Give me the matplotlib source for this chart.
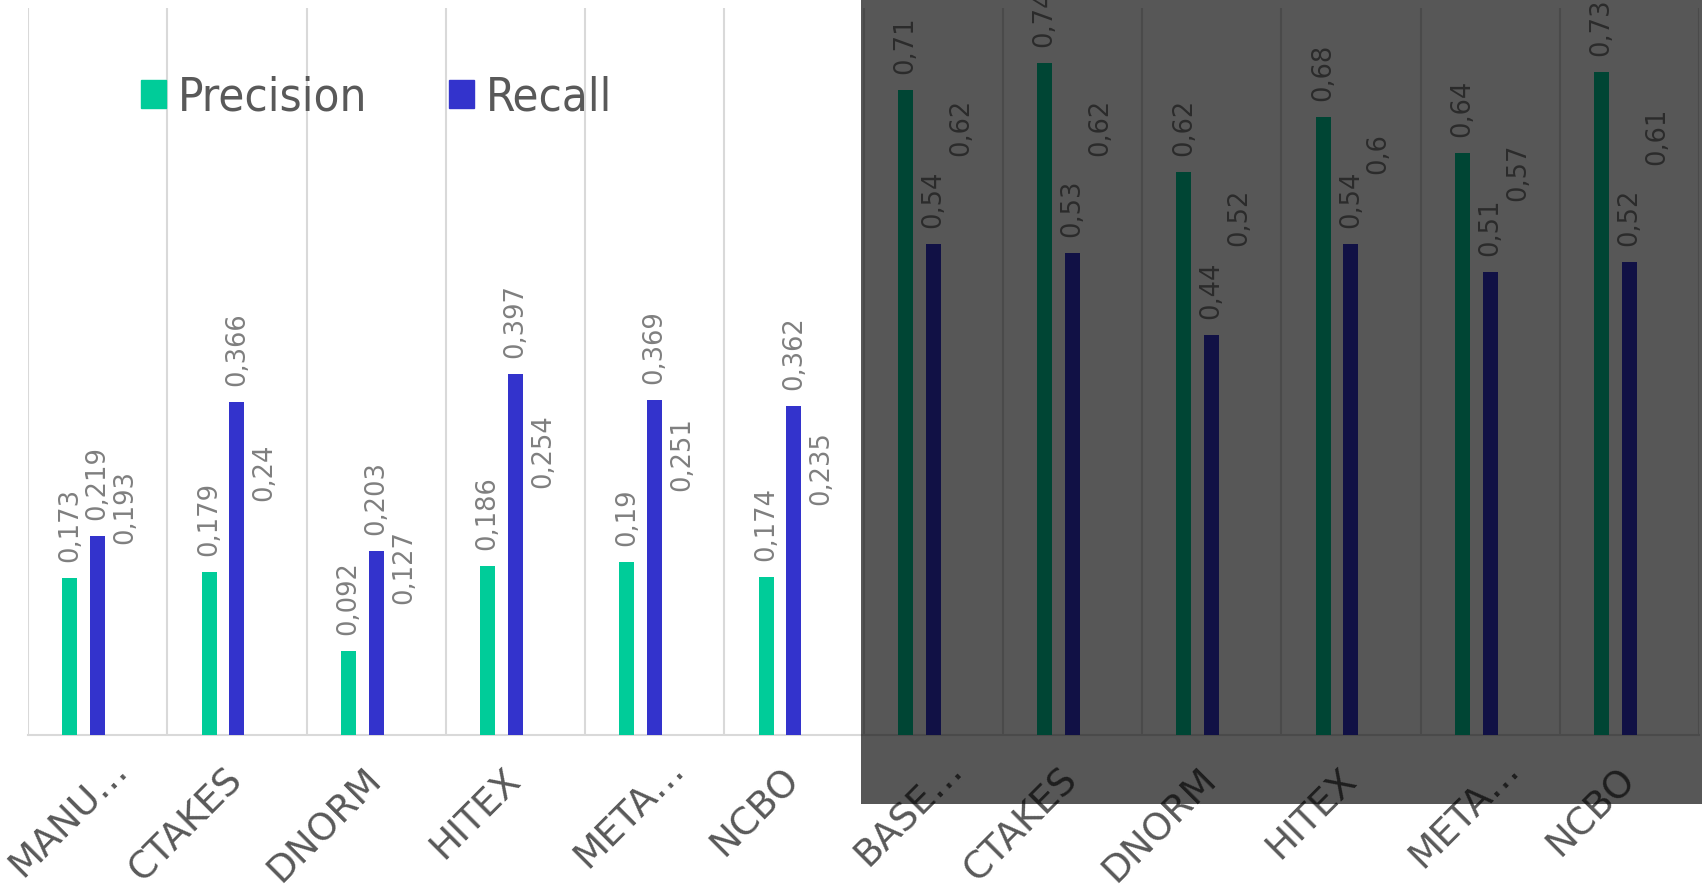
import matplotlib
matplotlib.use("Agg")
import matplotlib.pyplot as plt
import matplotlib.transforms as mtransforms
from matplotlib.patches import Rectangle, Patch
import numpy as np

categories = ["MANU…", "CTAKES", "DNORM", "HITEX", "META…", "NCBO",
              "BASE…", "CTAKES", "DNORM", "HITEX", "META…", "NCBO"]
precision = [0.173, 0.179, 0.092, 0.186, 0.19, 0.174, 0.71, 0.74, 0.62, 0.68, 0.64, 0.73]
recall = [0.219, 0.366, 0.203, 0.397, 0.369, 0.362, 0.54, 0.53, 0.44, 0.54, 0.51, 0.52]
fmeasure = [0.193, 0.24, 0.127, 0.254, 0.251, 0.235, 0.62, 0.62, 0.52, 0.6, 0.57, 0.61]

W, H = 1702, 889
fig = plt.figure(figsize=(W / 100, H / 100), dpi=100)
ax = fig.add_axes([28 / W, 1 - 735 / H, 1671 / W, 727 / H])

x = np.arange(len(categories))
bw = 0.108
off = 0.2
ax.bar(x - off, precision, bw, color="#00CC99", zorder=3)
ax.bar(x, recall, bw, color="#3333CC", zorder=3)

lab_kw = dict(rotation=90, ha="center", va="bottom", color="#7f7f7f",
              fontsize=18.5, textcoords="offset points", xytext=(0, 11.5))
def fmt(v):
    return ("%g" % v).replace(".", ",")
for i in range(len(categories)):
    ax.annotate(fmt(precision[i]), (x[i] - off, precision[i]), **lab_kw)
    ax.annotate(fmt(recall[i]), (x[i], recall[i]), **lab_kw)
    ax.annotate(fmt(fmeasure[i]), (x[i] + off, fmeasure[i]), **lab_kw)

ax.set_xlim(-0.5, len(categories) - 0.5)
ax.set_ylim(0, 0.8)
ax.set_yticks([])
ax.set_xticks(x)
ax.set_xticklabels(categories, rotation=45, ha="right", va="center",
                   rotation_mode="anchor", fontsize=27, color="#595959")
ax.tick_params(axis="x", length=0, pad=28)
# truncated labels sit a little further along in the original
shift = mtransforms.ScaledTranslation(0.24, 0.10, fig.dpi_scale_trans)
for lbl in ax.get_xticklabels():
    if lbl.get_text().endswith("…"):
        lbl.set_transform(lbl.get_transform() + shift)
ax.set_xticks(np.arange(-0.5, len(categories), 1), minor=True)
ax.tick_params(axis="x", which="minor", length=0)
ax.grid(axis="x", which="minor", color="#d9d9d9", linewidth=1.5, zorder=0)
ax.grid(axis="x", which="major", visible=False)
for s in ["top", "right", "left"]:
    ax.spines[s].set_visible(False)
ax.spines["bottom"].set_color("#d9d9d9")
ax.spines["bottom"].set_linewidth(1.5)

handles = [Patch(color="#00CC99", label="Precision"), Patch(color="#3333CC", label="Recall")]
fig.legend(handles=handles, loc="center left", bbox_to_anchor=(141 / W, 1 - 98 / H),
           ncol=2, frameon=False, labelcolor="#595959",
           borderpad=0, borderaxespad=0,
           handlelength=0.53, handleheight=0.53, handletextpad=0.25, columnspacing=1.72,
           prop={"size": 34, "stretch": "condensed"})

fig.add_artist(Rectangle((861 / W, 1 - 804 / H), 1 - 861 / W, 804 / H,
                         transform=fig.transFigure, facecolor="black", alpha=0.66,
                         edgecolor="none", zorder=10))

fig.savefig("out.png", dpi=100)
